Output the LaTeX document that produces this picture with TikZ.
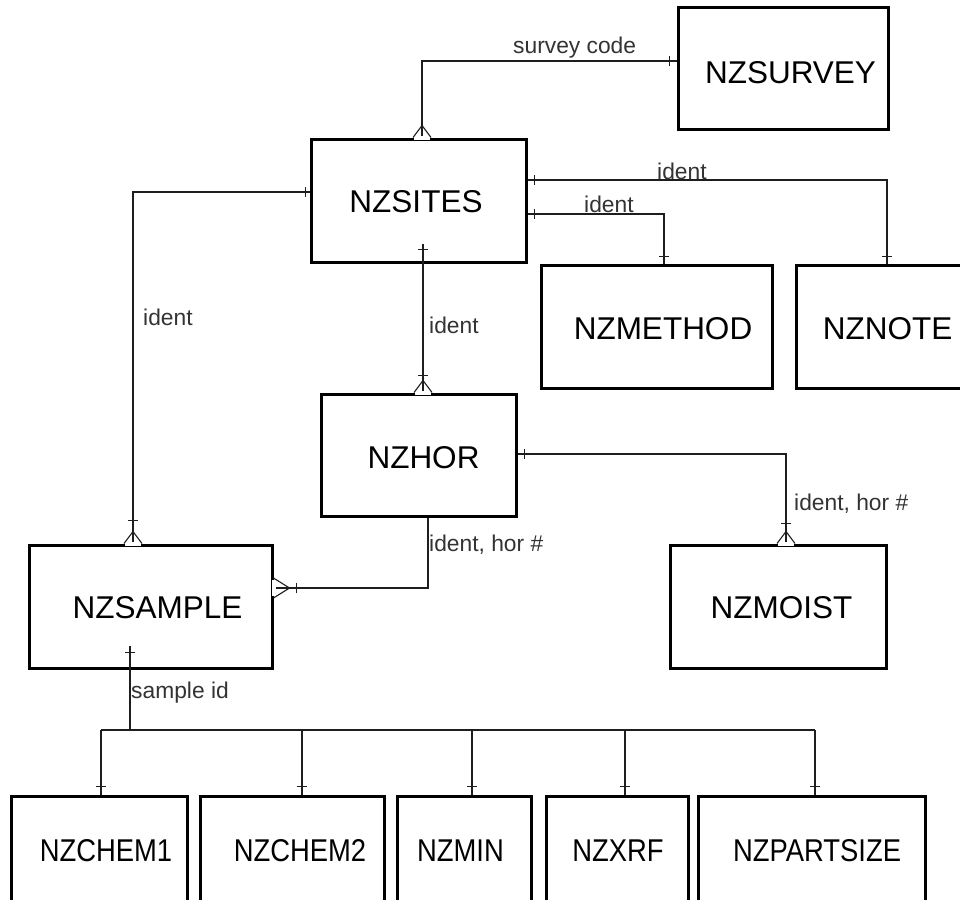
\documentclass[tikz,border=0pt]{standalone}
\usepackage{fontspec}
\setmainfont{Liberation Sans}
\usepackage{graphicx}
\definecolor{lnk}{HTML}{1E1E1E}
\definecolor{lbl}{HTML}{333333}
\begin{document}
\begin{tikzpicture}[x=1pt,y=-1pt,
  ent/.style={draw=black, line width=3pt, inner sep=0pt, rectangle},
  etext/.style={inner sep=0pt, font=\fontsize{31.5}{36}\selectfont, text=black},
  ltext/.style={inner sep=0pt, anchor=west, font=\fontsize{22.8}{26}\selectfont, text=lbl},
  conn/.style={draw=lnk, line width=1.4pt},
  crow/.style={draw=lnk, line width=1.1pt},
  tickh/.pic={\draw[conn] (0,-5) -- (0,5);},
  tickv/.pic={\draw[conn] (-5,0) -- (5,0);},
  crowd/.pic={\draw[white, line width=4pt] (-8,0) -- (8,0);
              \draw[crow] (-9,0) -- (0,-12) -- (9,0);},
  crowl/.pic={\draw[white, line width=4pt] (0,-8) -- (0,8);
              \draw[crow] (0,-10) -- (16,0) -- (0,10);}
]
\useasboundingbox (0,0) rectangle (960,899);
\fill[white] (0,0) rectangle (960,899);

% entity boxes
\node[ent, minimum width=210, minimum height=121] (survey) at (783,68.5) {};
\node[ent, minimum width=215, minimum height=123] (sites) at (418.5,200.5) {};
\node[ent, minimum width=231, minimum height=123] (method) at (656.5,326.5) {};
\node[ent, minimum width=182, minimum height=123] (note) at (887,326.5) {};
\node[ent, minimum width=195, minimum height=122] (hor) at (418.5,455) {};
\node[ent, minimum width=243, minimum height=123] (sample) at (150.5,606.5) {};
\node[ent, minimum width=216, minimum height=123] (moist) at (778,606.5) {};
\node[ent, minimum width=176, minimum height=124] (chem1) at (99,858) {};
\node[ent, minimum width=184, minimum height=124] (chem2) at (292,858) {};
\node[ent, minimum width=134, minimum height=124] (nzmin) at (464,858) {};
\node[ent, minimum width=142, minimum height=124] (xrf) at (617,858) {};
\node[ent, minimum width=227, minimum height=124] (part) at (811.5,858) {};

% entity names
\node[etext] (tsurvey) at (790.5,73) {NZSURVEY};
\node[etext] (tsites) at (416,202) {NZSITES};
\node[etext] (tmethod) at (663,329) {NZMETHOD};
\node[etext] (tnote) at (887.5,329) {NZNOTE};
\node[etext] (thor) at (423.5,458) {NZHOR};
\node[etext] (tsample) at (157.5,608) {NZSAMPLE};
\node[etext] (tmoist) at (781.5,608) {NZMOIST};
\node[etext] (tchem1) at (106,851) {\scalebox{0.87}[1]{NZCHEM1}};
\node[etext] (tchem2) at (300,851) {\scalebox{0.87}[1]{NZCHEM2}};
\node[etext] (tmin) at (460.5,851) {\scalebox{0.87}[1]{NZMIN}};
\node[etext] (txrf) at (618,851) {\scalebox{0.87}[1]{NZXRF}};
\node[etext] (tpart) at (817,851) {\scalebox{0.87}[1]{NZPARTSIZE}};

% survey code: NZSURVEY -> NZSITES
\draw[conn] (survey.west |- 0,61) -| (sites.north -| 422,0);
\path (survey.west |- 0,61) ++(-7,0) pic{tickh};
\path (sites.north -| 422,0) pic{crowd};
\node[ltext] (lsurvey) at (513,48) {survey code};

% ident: NZSITES -> NZSAMPLE
\draw[conn] (sites.west |- 0,192) -| (sample.north -| 133,0);
\path (sites.west |- 0,192) ++(-4,0) pic{tickh};
\path (sample.north -| 133,0) ++(0,-23) pic{tickv};
\path (sample.north -| 133,0) pic{crowd};
\node[ltext] (lident1) at (143,317) {ident};

% ident: NZSITES -> NZNOTE
\draw[conn] (sites.east |- 0,180) -| (note.north -| 887,0);
\path (sites.east |- 0,180) ++(7,0) pic{tickh};
\path (note.north -| 887,0) ++(0,-7) pic{tickv};
\node[ltext] (lident2) at (657,171) {ident};

% ident: NZSITES -> NZMETHOD
\draw[conn] (sites.east |- 0,214) -| (method.north -| 664,0);
\path (sites.east |- 0,214) ++(7,0) pic{tickh};
\path (method.north -| 664,0) ++(0,-7) pic{tickv};
\node[ltext] (lident3) at (584,204) {ident};

% ident: NZSITES -> NZHOR
\draw[conn] (sites.south -| 423,0) ++(0,-20) -- (hor.north -| 423,0);
\path (sites.south -| 423,0) ++(0,-14) pic{tickv};
\path (hor.north -| 423,0) ++(0,-17) pic{tickv};
\path (hor.north -| 423,0) pic{crowd};
\node[ltext] (lident4) at (429,325) {ident};

% ident, hor #: NZHOR -> NZSAMPLE
\draw[conn] (hor.south -| 428,0) |- (sample.east |- 0,588);
\path (sample.east |- 0,588) ++(23,0) pic{tickh};
\path (sample.east |- 0,588) pic{crowl};
\node[ltext] (lhor1) at (429,545) {ident, hor \#};

% ident, hor #: NZHOR -> NZMOIST
\draw[conn] (hor.east |- 0,454) -| (moist.north -| 786,0);
\path (hor.east |- 0,454) ++(7,0) pic{tickh};
\path (moist.north -| 786,0) ++(0,-20) pic{tickv};
\path (moist.north -| 786,0) pic{crowd};
\node[ltext] (lhor2) at (794,504) {ident, hor \#};

% sample id: NZSAMPLE -> analysis tables
\coordinate (bus) at (130,730);
\coordinate (busl) at (101,730);
\coordinate (busr) at (815,730);
\draw[conn] (sample.south -| 130,0) ++(0,-24) -- (bus);
\path (sample.south -| 130,0) ++(0,-17) pic{tickv};
\draw[conn] (busl) -- (busr);
\draw[conn] (busl) -- (chem1.north -| busl);
\draw[conn] (bus -| 302,0) -- (chem2.north -| 302,0);
\draw[conn] (bus -| 472,0) -- (nzmin.north -| 472,0);
\draw[conn] (bus -| 625,0) -- (xrf.north -| 625,0);
\draw[conn] (busr) -- (part.north -| busr);
\path (chem1.north -| busl) ++(0,-8) pic{tickv};
\path (chem2.north -| 302,0) ++(0,-8) pic{tickv};
\path (nzmin.north -| 472,0) ++(0,-8) pic{tickv};
\path (xrf.north -| 625,0) ++(0,-8) pic{tickv};
\path (part.north -| busr) ++(0,-8) pic{tickv};
\node[ltext] (lsample) at (131,693) {sample id};
\end{tikzpicture}
\end{document}
